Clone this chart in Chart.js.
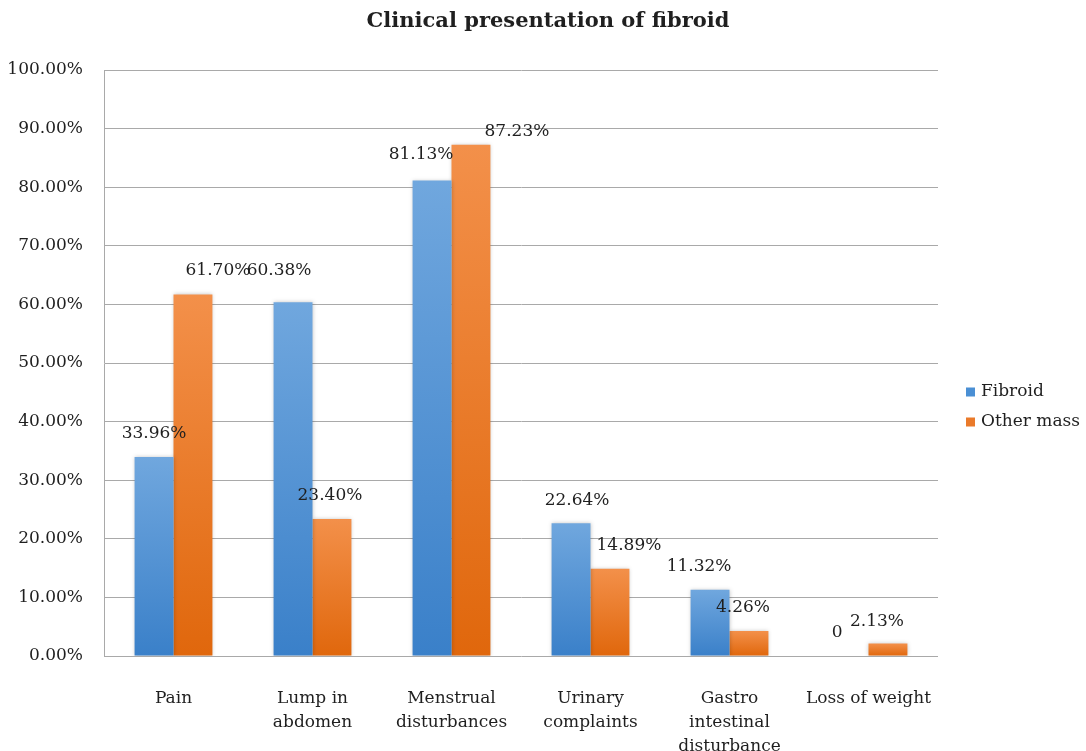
<!DOCTYPE html>
<html>
<head>
<meta charset="utf-8">
<title>Clinical presentation of fibroid</title>
<script src="https://cdn.jsdelivr.net/npm/chart.js@4/dist/chart.umd.min.js"></script>
<style>
  html, body { margin: 0; padding: 0; background: #ffffff; overflow: hidden; }
  #wrap { width: 1086px; height: 751px; position: relative; }
</style>
</head>
<body>
<div id="wrap"><canvas id="chart" width="1086" height="751"></canvas></div>
<script>
// Presenting complaints (multi-line axis labels)
const categories = [
  ['Pain'],
  ['Lump in', 'abdomen'],
  ['Menstrual', 'disturbances'],
  ['Urinary', 'complaints'],
  ['Gastro', 'intestinal', 'disturbance'],
  ['Loss of weight']
];
// Percent of patients per complaint
const fibroidValues = [33.96, 60.38, 81.13, 22.64, 11.32, 0];
const otherMassValues = [61.70, 23.40, 87.23, 14.89, 4.26, 2.13];
const seriesNames = ['Fibroid', 'Other mass'];
const yTicks = [0, 10, 20, 30, 40, 50, 60, 70, 80, 90, 100];
const chartTitle = 'Clinical presentation of fibroid';

const FONT = '"DejaVu Serif", "Liberation Serif", serif';
const TEXT = '#1f1f1f';
const GRID = '#a9a9a9';

// Bar fills: lighter at each bar's top, deeper at the base
const palette = [
  { top: '#70a7de', bottom: '#3a80c9', solid: '#4a8fd4' },
  { top: '#f3904a', bottom: '#e0670c', solid: '#ea7a2a' }
];

function barGradient(idx) {
  return function (ctx) {
    const chart = ctx.chart;
    const area = chart.chartArea;
    const p = palette[idx];
    if (!area || ctx.type !== 'data') return p.solid;
    const y = chart.scales.y;
    const topPx = y.getPixelForValue(ctx.raw);
    const basePx = y.getPixelForValue(0);
    if (basePx - topPx < 1) return p.solid;
    const g = chart.ctx.createLinearGradient(0, basePx, 0, topPx);
    g.addColorStop(0, p.bottom);
    g.addColorStop(1, p.top);
    return g;
  };
}

// Hand-placed value label offsets (dx, dy) per series and category
const labelNudge = [
  [[0, 0], [-14, -9], [-11, -3], [6, 0], [-11, 0], [-12, 0]],
  [[25, -1], [-2, 0], [46, 10], [19, 0], [-6, 0], [-11, 1]]
];

const valueLabels = {
  id: 'valueLabels',
  afterDatasetsDraw(chart) {
    const ctx = chart.ctx;
    ctx.save();
    ctx.font = '17px ' + FONT;
    ctx.fillStyle = TEXT;
    ctx.textAlign = 'center';
    ctx.textBaseline = 'middle';
    chart.data.datasets.forEach((ds, di) => {
      const meta = chart.getDatasetMeta(di);
      meta.data.forEach((bar, i) => {
        const v = ds.data[i];
        const txt = v === 0 ? '0' : v.toFixed(2) + '%';
        const n = labelNudge[di][i];
        ctx.fillText(txt, bar.x + n[0], bar.y - 23 + n[1]);
      });
    });
    ctx.restore();
  }
};

// Soft shadow around the bars
const barShadow = {
  id: 'barShadow',
  beforeDatasetsDraw(chart) {
    const ctx = chart.ctx;
    ctx.save();
    ctx.shadowColor = 'rgba(0,0,0,0.22)';
    ctx.shadowBlur = 4;
  },
  afterDatasetsDraw(chart) {
    chart.ctx.restore();
  }
};

// Title centred on the page and legend beside the plot
const titleAndLegend = {
  id: 'titleAndLegend',
  afterDraw(chart) {
    const ctx = chart.ctx;
    ctx.save();
    ctx.fillStyle = TEXT;
    ctx.font = 'bold 21px ' + FONT;
    ctx.textAlign = 'center';
    ctx.textBaseline = 'middle';
    ctx.fillText(chartTitle, 548, 22);

    ctx.font = '17px ' + FONT;
    ctx.textAlign = 'left';
    seriesNames.forEach((name, i) => {
      const cy = 392 + i * 30;
      ctx.fillStyle = palette[i].solid;
      ctx.fillRect(966, cy - 4.5, 9, 9);
      ctx.fillStyle = TEXT;
      ctx.fillText(name, 981, cy);
    });
    ctx.restore();
  }
};

new Chart(document.getElementById('chart'), {
  type: 'bar',
  data: {
    labels: categories,
    datasets: [
      { label: seriesNames[0], data: fibroidValues, backgroundColor: barGradient(0), borderWidth: 0 },
      { label: seriesNames[1], data: otherMassValues, backgroundColor: barGradient(1), borderWidth: 0 }
    ]
  },
  options: {
    responsive: false,
    animation: false,
    devicePixelRatio: 1,
    layout: { padding: { left: 0, right: 148, top: 70, bottom: 0 } },
    datasets: { bar: { categoryPercentage: 0.56, barPercentage: 1.0 } },
    plugins: {
      legend: { display: false },
      tooltip: { enabled: false },
      title: { display: false }
    },
    scales: {
      x: {
        grid: { display: false },
        border: { display: false },
        ticks: {
          color: TEXT,
          font: { family: FONT, size: 17, lineHeight: 1.41 },
          padding: 23,
          maxRotation: 0,
          autoSkip: false
        },
        afterFit(scale) { scale.height = 95; }
      },
      y: {
        min: 0,
        max: 100,
        afterBuildTicks(scale) { scale.ticks = yTicks.map(v => ({ value: v })); },
        grid: { color: GRID, lineWidth: 1, drawTicks: false },
        border: { display: true, color: GRID, width: 1 },
        ticks: {
          color: TEXT,
          font: { family: FONT, size: 17 },
          padding: 21,
          callback: v => v.toFixed(2) + '%'
        },
        afterFit(scale) { scale.width = 104; }
      }
    }
  },
  plugins: [barShadow, valueLabels, titleAndLegend]
});
</script>
</body>
</html>
